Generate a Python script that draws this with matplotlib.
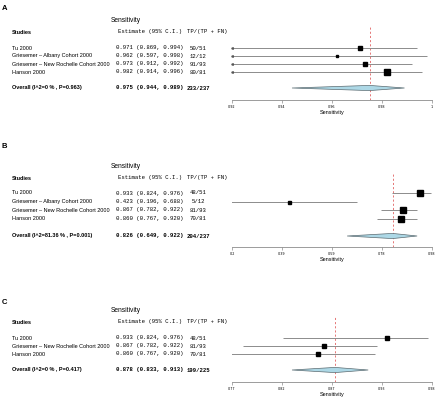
import matplotlib
matplotlib.use("Agg")
import matplotlib.pyplot as plt
import matplotlib.transforms as mtransforms
from matplotlib.patches import Polygon
import numpy as np

# ---------------- data ----------------
studies_A = ["Tu 2000", "Griesemer \u2013 Albany Cohort 2000",
             "Griesemer \u2013 New Rochelle Cohort 2000", "Hanson 2000"]
est_A = [0.971, 0.962, 0.973, 0.982]
lo_A = [0.869, 0.597, 0.912, 0.914]
hi_A = [0.994, 0.998, 0.992, 0.996]
tp_A = [50, 12, 91, 80]
n_A = [51, 12, 93, 81]
weights_A = [16, 4, 25, 30]
overall_A = (0.975, 0.944, 0.989)
overall_label_A = "Overall (I^2=0 % , P=0.963)"
ticks_A = [0.92, 0.94, 0.96, 0.98, 1.0]
tick_labels_A = ["0.92", "0.94", "0.96", "0.98", "1"]

studies_B = ["Tu 2000", "Griesemer \u2013 Albany Cohort 2000",
             "Griesemer \u2013 New Rochelle Cohort 2000", "Hanson 2000"]
est_B = [0.933, 0.423, 0.867, 0.860]
lo_B = [0.824, 0.196, 0.782, 0.767]
hi_B = [0.976, 0.688, 0.922, 0.920]
tp_B = [48, 5, 81, 70]
n_B = [51, 12, 93, 81]
weights_B = [42, 9, 36, 36]
overall_B = (0.826, 0.649, 0.922)
overall_label_B = "Overall (I^2=81.36 % , P=0.001)"
ticks_B = [0.2, 0.395, 0.59, 0.785, 0.98]
tick_labels_B = ["0.2", "0.39", "0.59", "0.78", "0.98"]

studies_C = ["Tu 2000", "Griesemer \u2013 New Rochelle Cohort 2000", "Hanson 2000"]
est_C = [0.933, 0.867, 0.860]
lo_C = [0.824, 0.782, 0.767]
hi_C = [0.976, 0.922, 0.920]
tp_C = [48, 81, 70]
n_C = [51, 93, 81]
weights_C = [25, 25, 25]
overall_C = (0.878, 0.833, 0.913)
overall_label_C = "Overall (I^2=0 % , P=0.417)"
ticks_C = [0.77, 0.8225, 0.875, 0.9275, 0.98]
tick_labels_C = ["0.77", "0.82", "0.87", "0.93", "0.98"]

# ---------------- layout ----------------
W, H = 437, 399
fig = plt.figure(figsize=(W / 100, H / 100), dpi=100)
fig.patch.set_facecolor("white")

SANS = "Liberation Sans"
MONO = "Liberation Mono"
GRAY = "#8c8c8c"
FS_NAME = 4.0
FS_MONO = 4.1


def fx(px):
    return px / W


def fy(py):
    return 1 - py / H


def panel(letter, label_y, title_y, header_y, row_ys, overall_y, axis_y,
          studies, est, lo, hi, tp, n, weights, overall, overall_label,
          ticks, tick_labels):
    top = header_y - 5
    ax = fig.add_axes([fx(232), fy(axis_y), fx(432) - fx(232), (axis_y - top) / H])
    ax.set_xlim(ticks[0], ticks[-1])
    ax.set_ylim(axis_y, top)
    for s in ["top", "right", "left"]:
        ax.spines[s].set_visible(False)
    ax.spines["bottom"].set_color(GRAY)
    ax.spines["bottom"].set_linewidth(0.6)
    ax.set_yticks([])
    ax.set_xticks(ticks, tick_labels)
    ax.tick_params(axis="x", length=2, width=0.5, color=GRAY, labelsize=2.4,
                   pad=1.5)
    ax.set_xlabel("Sensitivity", fontsize=4.0, family=SANS, labelpad=0.5)
    ax.patch.set_alpha(0)

    tr = mtransforms.blended_transform_factory(fig.transFigure, ax.transData)
    xmin, xmax = ticks[0], ticks[-1]
    rng = xmax - xmin

    # panel letter and title
    fig.text(fx(2), fy(label_y), letter, fontsize=5.5, fontweight="bold",
             family=SANS, va="center", ha="left")
    fig.text(fx(126), fy(title_y), "Sensitivity", fontsize=4.8, family=SANS,
             va="center", ha="center")

    # headers
    ax.text(fx(12), header_y, "Studies", transform=tr, fontsize=FS_NAME,
            fontweight="bold", family=SANS, va="center", ha="left")
    ax.text(fx(118), header_y, "Estimate (95% C.I.)", transform=tr,
            fontsize=FS_MONO, family=MONO, va="center", ha="left")
    ax.text(fx(187), header_y, "TP/(TP + FN)", transform=tr,
            fontsize=FS_MONO, family=MONO, va="center", ha="left")

    # dashed overall line
    ax.axvline(overall[0], color="#e06060", ls=(0, (2.5, 2.5)), lw=0.6,
               zorder=1)

    for i, y in enumerate(row_ys):
        ax.text(fx(12), y, studies[i], transform=tr, fontsize=FS_NAME,
                family=SANS, va="center", ha="left")
        ax.text(fx(116), y, f"{est[i]:.3f} ({lo[i]:.3f}, {hi[i]:.3f})",
                transform=tr, fontsize=FS_MONO, family=MONO, va="center",
                ha="left")
        ax.text(fx(198), y, f"{tp[i]}/{n[i]}", transform=tr, fontsize=FS_MONO,
                family=MONO, va="center", ha="center")
        ax.plot([lo[i], hi[i]], [y, y], color=GRAY, lw=0.7, zorder=2,
                solid_capstyle="butt")
        if lo[i] < xmin - 0.02 * rng:
            ax.plot([xmin], [y], marker="<", ms=1.2, color="#555555",
                    clip_on=False, zorder=3)
        ms = 0.72 * np.sqrt(weights[i])
        ax.plot([est[i]], [y], marker="s", ms=ms, color="black", zorder=4,
                clip_on=False)

    # overall
    oy = overall_y
    ax.text(fx(12), oy, overall_label, transform=tr, fontsize=FS_NAME,
            fontweight="bold", family=SANS, va="center", ha="left")
    ax.text(fx(116), oy, f"{overall[0]:.3f} ({overall[1]:.3f}, {overall[2]:.3f})",
            transform=tr, fontsize=FS_MONO, family=MONO, fontweight="bold",
            va="center", ha="left")
    ax.text(fx(198), oy, f"{sum(tp)}/{sum(n)}", transform=tr, fontsize=FS_MONO,
            family=MONO, fontweight="bold", va="center", ha="center")
    h = 2.6
    dia = Polygon([[overall[1], oy], [overall[0], oy - h], [overall[2], oy],
                   [overall[0], oy + h]], closed=True, facecolor="#add8e6",
                  edgecolor="#5a6a70", lw=0.5, zorder=3)
    ax.add_patch(dia)
    return ax


panel("A", 8, 20, 32, [48, 56, 64, 72], 88, 100,
      studies_A, est_A, lo_A, hi_A, tp_A, n_A, weights_A, overall_A,
      overall_label_A, ticks_A, tick_labels_A)
panel("B", 147, 166, 178, [193, 201.5, 210, 218.5], 236, 247,
      studies_B, est_B, lo_B, hi_B, tp_B, n_B, weights_B, overall_B,
      overall_label_B, ticks_B, tick_labels_B)
panel("C", 302, 311, 322, [338, 346, 354], 370, 382,
      studies_C, est_C, lo_C, hi_C, tp_C, n_C, weights_C, overall_C,
      overall_label_C, ticks_C, tick_labels_C)

fig.savefig("out.png", dpi=100, facecolor="white")
